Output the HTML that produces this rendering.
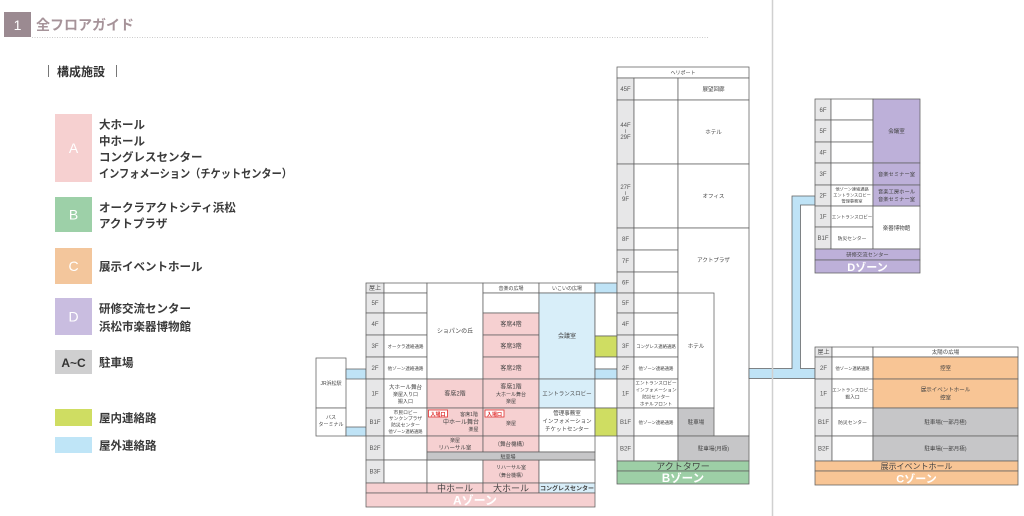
<!DOCTYPE html>
<html><head><meta charset="utf-8">
<style>
body{margin:0;width:1024px;height:516px;background:#fff;overflow:hidden}
svg{display:block}
text{font-family:"Liberation Sans","Noto Sans CJK JP",sans-serif}
.c{text-anchor:middle;fill:#444}
.fl{text-anchor:middle;fill:#555;font-size:6px}
.lg{font-size:11.5px;font-weight:bold;fill:#3a3a3a}
</style></head>
<body>
<svg width="1024" height="516" viewBox="0 0 1024 516">
<!-- header -->
<rect x="4" y="12" width="27" height="25" fill="#9b8a91"/>
<text x="17.5" y="30" fill="#fff" font-size="14" text-anchor="middle">1</text>
<text x="36" y="30" fill="#a69399" font-size="14" font-weight="bold">全フロアガイド</text>
<line x1="32" y1="37.5" x2="708" y2="37.5" stroke="#bbb" stroke-width="0.8" stroke-dasharray="1,1.5"/>
<line x1="48.5" y1="65" x2="48.5" y2="77" stroke="#555" stroke-width="0.8"/>
<text x="57" y="76" font-size="12" font-weight="bold" fill="#333">構成施設</text>
<line x1="116.5" y1="65" x2="116.5" y2="77" stroke="#555" stroke-width="0.8"/>

<!-- legend -->
<rect x="55" y="114" width="37" height="68" fill="#f6d0d0"/>
<text x="73.5" y="153" fill="#fff" font-size="14" text-anchor="middle">A</text>
<text x="99" y="128.5" class="lg">大ホール</text>
<text x="99" y="145" class="lg">中ホール</text>
<text x="99" y="161" class="lg">コングレスセンター</text>
<text x="99" y="177.5" class="lg" textLength="193" lengthAdjust="spacingAndGlyphs">インフォメーション（チケットセンター）</text>

<rect x="55" y="197" width="37" height="35" fill="#9dd0a8"/>
<text x="73.5" y="219.5" fill="#fff" font-size="14" text-anchor="middle">B</text>
<text x="99" y="211.5" class="lg">オークラアクトシティ浜松</text>
<text x="99" y="227.5" class="lg">アクトプラザ</text>

<rect x="55" y="248" width="37" height="36" fill="#f3c69c"/>
<text x="73.5" y="271" fill="#fff" font-size="14" text-anchor="middle">C</text>
<text x="99" y="270.5" class="lg">展示イベントホール</text>

<rect x="55" y="298" width="37" height="37" fill="#c9bde0"/>
<text x="73.5" y="321.5" fill="#fff" font-size="14" text-anchor="middle">D</text>
<text x="99" y="312.5" class="lg">研修交流センター</text>
<text x="99" y="330.5" class="lg">浜松市楽器博物館</text>

<rect x="55" y="350" width="37" height="24" fill="#cfcfd0"/>
<text x="73.5" y="367" fill="#333" font-size="12" font-weight="bold" text-anchor="middle">A~C</text>
<text x="99" y="366.5" class="lg">駐車場</text>

<rect x="55" y="409" width="37" height="17" fill="#cfdd62"/>
<text x="99" y="422" class="lg">屋内連絡路</text>
<rect x="55" y="437" width="37" height="16" fill="#bfe5f7"/>
<text x="99" y="449.5" class="lg">屋外連絡路</text>

<!-- divider -->
<line x1="772.5" y1="0" x2="772.5" y2="516" stroke="#d0d0d0" stroke-width="1.5"/>

<g stroke="#5f5f5f" stroke-width="0.75">
<!-- ===== A ZONE ===== -->
<rect x="316" y="358" width="30" height="50" fill="#fff"/>
<rect x="316" y="408" width="30" height="28" fill="#fff"/>
<rect x="346" y="369" width="20" height="10" fill="#bfe3f6"/>
<rect x="346" y="427" width="20" height="9" fill="#bfe3f6"/>
<!-- floor col -->
<g fill="#e7e7e8">
<rect x="366" y="283" width="18" height="10"/>
<rect x="366" y="293" width="18" height="20"/>
<rect x="366" y="313" width="18" height="22"/>
<rect x="366" y="335" width="18" height="22"/>
<rect x="366" y="357" width="18" height="22"/>
<rect x="366" y="379" width="18" height="29"/>
<rect x="366" y="408" width="18" height="28"/>
<rect x="366" y="436" width="18" height="24"/>
<rect x="366" y="460" width="18" height="23"/>
</g>
<g fill="#fff">
<rect x="384" y="283" width="43" height="10"/>
<rect x="384" y="293" width="43" height="20"/>
<rect x="384" y="313" width="43" height="22"/>
<rect x="384" y="335" width="43" height="22"/>
<rect x="384" y="357" width="43" height="22"/>
<rect x="384" y="379" width="43" height="29"/>
<rect x="384" y="408" width="43" height="28"/>
<rect x="384" y="436" width="43" height="24"/>
<rect x="384" y="460" width="43" height="23"/>
</g>
<!-- col3 -->
<rect x="427" y="283" width="56" height="96" fill="#fff"/>
<rect x="427" y="379" width="56" height="29" fill="#f6d0d1"/>
<rect x="427" y="408" width="56" height="28" fill="#f6d0d1"/>
<rect x="427" y="436" width="56" height="16" fill="#f6d0d1"/>
<rect x="427" y="460" width="56" height="23" fill="#fff"/>
<!-- col4 -->
<rect x="483" y="283" width="56" height="10" fill="#fff"/>
<rect x="483" y="293" width="56" height="20" fill="#fff"/>
<rect x="483" y="313" width="56" height="22" fill="#f6d0d1"/>
<rect x="483" y="335" width="56" height="22" fill="#f6d0d1"/>
<rect x="483" y="357" width="56" height="22" fill="#f6d0d1"/>
<rect x="483" y="379" width="56" height="29" fill="#f6d0d1"/>
<rect x="483" y="408" width="56" height="28" fill="#f6d0d1"/>
<rect x="483" y="436" width="56" height="16" fill="#f6d0d1"/>
<rect x="483" y="460" width="56" height="23" fill="#f6d0d1"/>
<!-- col5 -->
<rect x="539" y="283" width="56" height="10" fill="#fff"/>
<rect x="539" y="293" width="56" height="86" fill="#d8eef9"/>
<rect x="539" y="379" width="56" height="29" fill="#d8eef9"/>
<rect x="539" y="408" width="56" height="28" fill="#fff"/>
<rect x="539" y="436" width="56" height="16" fill="#fff"/>
<rect x="539" y="460" width="56" height="23" fill="#fff"/>
<!-- parking -->
<rect x="427" y="452" width="168" height="8" fill="#c6c6c8"/>
<!-- bottom bands -->
<rect x="366" y="483" width="61" height="10" fill="#f6d0d1"/>
<rect x="427" y="483" width="56" height="10" fill="#f6d0d1"/>
<rect x="483" y="483" width="56" height="10" fill="#f6d0d1"/>
<rect x="539" y="483" width="56" height="10" fill="#d8eef9"/>
<rect x="366" y="493" width="229" height="14" fill="#f6d0d1"/>
<!-- gap col -->
<rect x="595" y="283" width="22" height="10" fill="#bfe3f6"/>
<rect x="595" y="293" width="22" height="43" fill="#fff"/>
<rect x="595" y="336" width="22" height="21" fill="#cfdd62"/>
<rect x="595" y="357" width="22" height="12" fill="#fff"/>
<rect x="595" y="369" width="22" height="10" fill="#bfe3f6"/>
<rect x="595" y="379" width="22" height="29" fill="#fff"/>
<rect x="595" y="408" width="22" height="28" fill="#cfdd62"/>

<!-- ===== B ZONE ===== -->
<rect x="617" y="67" width="132" height="11" fill="#fff"/>
<g fill="#e7e7e8">
<rect x="617" y="78" width="17" height="22"/>
<rect x="617" y="100" width="17" height="64"/>
<rect x="617" y="164" width="17" height="64"/>
<rect x="617" y="228" width="17" height="22"/>
<rect x="617" y="250" width="17" height="22"/>
<rect x="617" y="272" width="17" height="21"/>
<rect x="617" y="293" width="17" height="20"/>
<rect x="617" y="313" width="17" height="22"/>
<rect x="617" y="335" width="17" height="22"/>
<rect x="617" y="357" width="17" height="22"/>
<rect x="617" y="379" width="17" height="29"/>
<rect x="617" y="408" width="17" height="28"/>
<rect x="617" y="436" width="17" height="25"/>
</g>
<g fill="#fff">
<rect x="634" y="78" width="44" height="22"/>
<rect x="634" y="100" width="44" height="64"/>
<rect x="634" y="164" width="44" height="64"/>
<rect x="634" y="228" width="44" height="22"/>
<rect x="634" y="250" width="44" height="22"/>
<rect x="634" y="272" width="44" height="21"/>
<rect x="634" y="293" width="44" height="20"/>
<rect x="634" y="313" width="44" height="22"/>
<rect x="634" y="335" width="44" height="22"/>
<rect x="634" y="357" width="44" height="22"/>
<rect x="634" y="379" width="44" height="29"/>
<rect x="634" y="408" width="44" height="28"/>
<rect x="634" y="436" width="44" height="25"/>
<rect x="678" y="78" width="71" height="22"/>
<rect x="678" y="100" width="71" height="64"/>
<rect x="678" y="164" width="71" height="64"/>
<rect x="678" y="228" width="71" height="208"/>
<rect x="678" y="293" width="36" height="115"/>
</g>
<rect x="678" y="408" width="36" height="28" fill="#c6c6c8"/>
<rect x="678" y="436" width="71" height="25" fill="#c6c6c8"/>
<rect x="617" y="461" width="132" height="10" fill="#9dcfa6"/>
<rect x="617" y="471" width="132" height="13" fill="#9dcfa6"/>

<!-- connector B -> D / C -->
<path d="M749 368.5 H792 V196 H815 V205 H800.5 V368.5 H815 V378.5 H749 Z" fill="#bfe3f6"/>

<!-- ===== D ZONE ===== -->
<g fill="#e7e7e8">
<rect x="815" y="99" width="16" height="21"/>
<rect x="815" y="120" width="16" height="22"/>
<rect x="815" y="142" width="16" height="21"/>
<rect x="815" y="163" width="16" height="22"/>
<rect x="815" y="185" width="16" height="21"/>
<rect x="815" y="206" width="16" height="21"/>
<rect x="815" y="227" width="16" height="22"/>
</g>
<g fill="#fff">
<rect x="831" y="99" width="42" height="21"/>
<rect x="831" y="120" width="42" height="22"/>
<rect x="831" y="142" width="42" height="21"/>
<rect x="831" y="163" width="42" height="22"/>
<rect x="831" y="185" width="42" height="21"/>
<rect x="831" y="206" width="42" height="21"/>
<rect x="831" y="227" width="42" height="22"/>
<rect x="873" y="206" width="47" height="43"/>
</g>
<rect x="873" y="99" width="47" height="64" fill="#bdb0d9"/>
<rect x="873" y="163" width="47" height="22" fill="#bdb0d9"/>
<rect x="873" y="185" width="47" height="21" fill="#bdb0d9"/>
<rect x="815" y="249" width="105" height="11" fill="#bdb0d9"/>
<rect x="815" y="260" width="105" height="13" fill="#bdb0d9"/>

<!-- ===== C ZONE ===== -->
<g fill="#e7e7e8">
<rect x="815" y="347" width="17" height="10"/>
<rect x="815" y="357" width="17" height="22"/>
<rect x="815" y="379" width="17" height="29"/>
<rect x="815" y="408" width="17" height="28"/>
<rect x="815" y="436" width="17" height="25"/>
</g>
<g fill="#fff">
<rect x="832" y="347" width="41" height="10"/>
<rect x="832" y="357" width="41" height="22"/>
<rect x="832" y="379" width="41" height="29"/>
<rect x="832" y="408" width="41" height="28"/>
<rect x="832" y="436" width="41" height="25"/>
<rect x="873" y="347" width="145" height="10"/>
</g>
<rect x="873" y="357" width="145" height="22" fill="#f8c595"/>
<rect x="873" y="379" width="145" height="29" fill="#f8c595"/>
<rect x="873" y="408" width="145" height="28" fill="#c6c6c8"/>
<rect x="873" y="436" width="145" height="25" fill="#c6c6c8"/>
<rect x="815" y="461" width="203" height="10" fill="#f8c595"/>
<rect x="815" y="471" width="203" height="14" fill="#f8c595"/>
</g>
<line x1="772.5" y1="368" x2="772.5" y2="379" stroke="#d0d0d0" stroke-width="1.5"/>

<!-- red entrance boxes -->
<rect x="428.5" y="410" width="19" height="7" fill="#fff" stroke="#e03030" stroke-width="0.8"/>
<text x="438" y="416" font-size="5" fill="#e03030" text-anchor="middle" font-weight="bold">入場口</text>
<rect x="485" y="410" width="19" height="7" fill="#fff" stroke="#e03030" stroke-width="0.8"/>
<text x="494.5" y="416" font-size="5" fill="#e03030" text-anchor="middle" font-weight="bold">入場口</text>

<!-- ===== A texts ===== -->
<text x="331" y="385" class="c" font-size="5">JR浜松駅</text>
<text x="331" y="419" class="c" font-size="5">バス</text>
<text x="331" y="426" class="c" font-size="5">ターミナル</text>
<text x="375" y="290" class="fl" font-size="5.5">屋上</text>
<text x="375" y="305" class="fl">5F</text>
<text x="375" y="326" class="fl">4F</text>
<text x="375" y="348" class="fl">3F</text>
<text x="375" y="370" class="fl">2F</text>
<text x="375" y="395.5" class="fl">1F</text>
<text x="375" y="424" class="fl">B1F</text>
<text x="375" y="450" class="fl">B2F</text>
<text x="375" y="473.5" class="fl">B3F</text>
<text x="405.5" y="348" class="c" font-size="4.5">オークラ連絡通路</text>
<text x="405.5" y="370" class="c" font-size="4.5">他ゾーン連絡通路</text>
<text x="405.5" y="389" class="c" font-size="5.5">大ホール舞台</text>
<text x="405.5" y="396" class="c" font-size="5">楽屋入り口</text>
<text x="405.5" y="403" class="c" font-size="5">搬入口</text>
<text x="405.5" y="414" class="c" font-size="4.8">市民ロビー</text>
<text x="405.5" y="420" class="c" font-size="4.8">サンクンプラザ</text>
<text x="405.5" y="426.5" class="c" font-size="4.8">防災センター</text>
<text x="405.5" y="433" class="c" font-size="4.3">他ゾーン連絡通路</text>
<text x="455" y="333" class="c" font-size="6">ショパンの丘</text>
<text x="455" y="395.5" class="c" font-size="6">客席2階</text>
<text x="469" y="416" class="c" font-size="5">客席1階</text>
<text x="461" y="424" class="c" font-size="6">中ホール舞台</text>
<text x="473.5" y="431" class="c" font-size="5">楽屋</text>
<text x="455" y="442" class="c" font-size="5">楽屋</text>
<text x="455" y="449.5" class="c" font-size="5.5">リハーサル室</text>
<text x="511" y="290" class="c" font-size="5">音楽の広場</text>
<text x="511" y="326" class="c" font-size="6">客席4階</text>
<text x="511" y="348" class="c" font-size="6">客席3階</text>
<text x="511" y="370" class="c" font-size="6">客席2階</text>
<text x="511" y="388.5" class="c" font-size="6">客席1階</text>
<text x="511" y="396" class="c" font-size="5">大ホール舞台</text>
<text x="511" y="403" class="c" font-size="5">楽屋</text>
<text x="511" y="425" class="c" font-size="5">楽屋</text>
<text x="511" y="446" class="c" font-size="5.5">（舞台機構）</text>
<text x="508" y="458.5" class="c" font-size="5">駐車場</text>
<text x="511" y="469" class="c" font-size="5">リハーサル室</text>
<text x="511" y="477" class="c" font-size="5">（舞台機構）</text>
<text x="567" y="290" class="c" font-size="5">いこいの広場</text>
<text x="567" y="338" class="c" font-size="6">会議室</text>
<text x="567" y="395.5" class="c" font-size="5.5">エントランスロビー</text>
<text x="567" y="415" class="c" font-size="5.5">管理事務室</text>
<text x="567" y="423" class="c" font-size="5.5">インフォメーション</text>
<text x="567" y="431" class="c" font-size="5.5">チケットセンター</text>
<text x="455" y="491.5" class="c" font-size="9" fill="#333">中ホール</text>
<text x="511" y="491.5" class="c" font-size="9" fill="#333">大ホール</text>
<text x="567" y="490.5" class="c" font-size="6" font-weight="bold" fill="#334">コングレスセンター</text>
<text x="475" y="504.5" font-size="12" font-weight="bold" fill="#fff" text-anchor="middle">Aゾーン</text>

<!-- ===== B texts ===== -->
<text x="683" y="74.5" class="c" font-size="5">ヘリポート</text>
<text x="625.5" y="91" class="fl" font-size="5.5">45F</text>
<text x="625.5" y="127" class="fl" font-size="5.5">44F</text>
<text x="625.5" y="133" class="fl" font-size="5.5">≀</text>
<text x="625.5" y="139" class="fl" font-size="5.5">29F</text>
<text x="625.5" y="189" class="fl" font-size="5.5">27F</text>
<text x="625.5" y="195" class="fl" font-size="5.5">≀</text>
<text x="625.5" y="201" class="fl" font-size="5.5">9F</text>
<text x="625.5" y="241" class="fl" font-size="5.5">8F</text>
<text x="625.5" y="263" class="fl" font-size="5.5">7F</text>
<text x="625.5" y="284.5" class="fl" font-size="5.5">6F</text>
<text x="625.5" y="305" class="fl" font-size="5.5">5F</text>
<text x="625.5" y="326" class="fl" font-size="5.5">4F</text>
<text x="625.5" y="348" class="fl" font-size="5.5">3F</text>
<text x="625.5" y="370" class="fl" font-size="5.5">2F</text>
<text x="625.5" y="395.5" class="fl" font-size="5.5">1F</text>
<text x="625.5" y="424" class="fl" font-size="5.5">B1F</text>
<text x="625.5" y="450.5" class="fl" font-size="5">B2F</text>
<text x="713.5" y="91" class="c" font-size="5.5">展望回廊</text>
<text x="713.5" y="134" class="c" font-size="5.5">ホテル</text>
<text x="713.5" y="198" class="c" font-size="5.5">オフィス</text>
<text x="713.5" y="262" class="c" font-size="5.5">アクトプラザ</text>
<text x="696" y="348" class="c" font-size="5.5">ホテル</text>
<text x="696" y="424" class="c" font-size="5.5">駐車場</text>
<text x="713.5" y="450.5" class="c" font-size="5.5">駐車場(月極)</text>
<text x="656" y="348" class="c" font-size="4.4">コングレス連絡通路</text>
<text x="656" y="370" class="c" font-size="4.4">他ゾーン連絡通路</text>
<text x="656" y="384.5" class="c" font-size="4.6">エントランスロビー</text>
<text x="656" y="391.5" class="c" font-size="4.6">インフォメーション</text>
<text x="656" y="398.5" class="c" font-size="4.6">防災センター</text>
<text x="656" y="405.5" class="c" font-size="4.6">ホテルフロント</text>
<text x="656" y="424" class="c" font-size="4.4">他ゾーン連絡通路</text>
<text x="683" y="469.5" class="c" font-size="9" fill="#555">アクトタワー</text>
<text x="683" y="482" font-size="11.5" font-weight="bold" fill="#fff" text-anchor="middle">Bゾーン</text>

<!-- ===== D texts ===== -->
<text x="823" y="112" class="fl" font-size="5.5">6F</text>
<text x="823" y="133" class="fl" font-size="5.5">5F</text>
<text x="823" y="154.5" class="fl" font-size="5.5">4F</text>
<text x="823" y="176" class="fl" font-size="5.5">3F</text>
<text x="823" y="197.5" class="fl" font-size="5.5">2F</text>
<text x="823" y="218.5" class="fl" font-size="5.5">1F</text>
<text x="823" y="240" class="fl" font-size="5.5">B1F</text>
<text x="852" y="190.5" class="c" font-size="4.2">他ゾーン連絡通路</text>
<text x="852" y="196.5" class="c" font-size="4.2">エントランスロビー</text>
<text x="852" y="202.5" class="c" font-size="4.2">管理事務室</text>
<text x="852" y="218.5" class="c" font-size="4.5">エントランスロビー</text>
<text x="852" y="240" class="c" font-size="4.8">防災センター</text>
<text x="896.5" y="133" class="c" font-size="5.5">会議室</text>
<text x="896.5" y="176" class="c" font-size="5.3">音楽セミナー室</text>
<text x="896.5" y="193.5" class="c" font-size="5.3">音楽工房ホール</text>
<text x="896.5" y="201" class="c" font-size="5.3">音楽セミナー室</text>
<text x="896.5" y="230" class="c" font-size="5.5">楽器博物館</text>
<text x="867.5" y="256.5" class="c" font-size="5.3">研修交流センター</text>
<text x="867.5" y="271" font-size="11" font-weight="bold" fill="#fff" text-anchor="middle">Dゾーン</text>

<!-- ===== C texts ===== -->
<text x="823.5" y="354" class="fl" font-size="5.5">屋上</text>
<text x="823.5" y="370" class="fl" font-size="5.5">2F</text>
<text x="823.5" y="395.5" class="fl" font-size="5.5">1F</text>
<text x="823.5" y="424" class="fl" font-size="5.5">B1F</text>
<text x="823.5" y="450.5" class="fl" font-size="5.5">B2F</text>
<text x="852.5" y="370" class="c" font-size="4.3">他ゾーン連絡通路</text>
<text x="852.5" y="391.5" class="c" font-size="4.5">エントランスロビー</text>
<text x="852.5" y="398.5" class="c" font-size="4.8">搬入口</text>
<text x="852.5" y="424" class="c" font-size="4.8">防災センター</text>
<text x="945.5" y="354" class="c" font-size="5.5">太陽の広場</text>
<text x="945.5" y="370" class="c" font-size="5.5">控室</text>
<text x="945.5" y="391.5" class="c" font-size="5.5">展示イベントホール</text>
<text x="945.5" y="399.5" class="c" font-size="5.5">控室</text>
<text x="945.5" y="424" class="c" font-size="5.5">駐車場(一部月極)</text>
<text x="945.5" y="450.5" class="c" font-size="5.5">駐車場(一部月極)</text>
<text x="916.5" y="469" class="c" font-size="8" fill="#555">展示イベントホール</text>
<text x="916.5" y="482.5" font-size="11" font-weight="bold" fill="#fff" text-anchor="middle">Cゾーン</text>
</svg>
</body></html>
